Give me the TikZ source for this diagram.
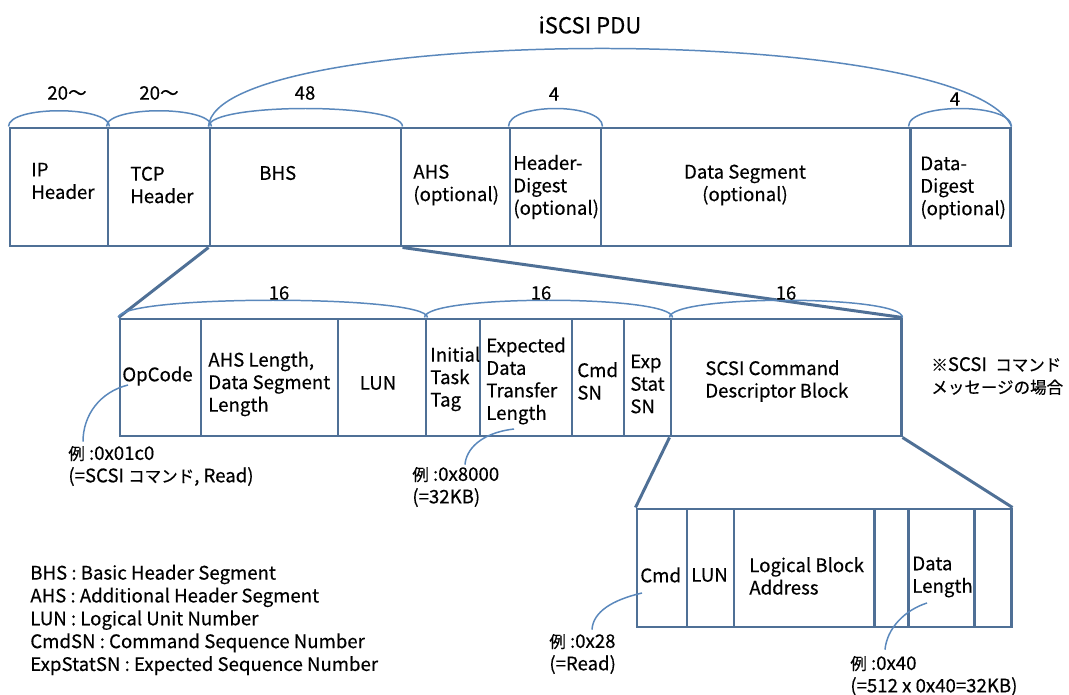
\documentclass[tikz,border=0pt]{standalone}
\usepackage{fontspec}
\setmainfont{Noto Sans CJK JP}[FakeBold=0.35]
\usepackage{tikz}
\usetikzlibrary{calc,fit}
\definecolor{boxblue}{HTML}{4F7096}
\definecolor{arcblue}{HTML}{5A88BC}
\newcommand{\jpsz}{\fontsize{9.4}{12.8}\selectfont}
\tikzset{
  field/.style={draw=boxblue, line width=1.7pt, inner sep=0pt},
  zoomline/.style={draw=boxblue, line width=1.7pt},
  bracearc/.style={draw=arcblue, line width=0.85pt},
  callout/.style={draw=arcblue, line width=0.85pt},
  ftext/.style={anchor=west, inner sep=0pt, align=left,
                font=\fontsize{10.6}{12.8}\selectfont},
  lbl/.style={inner sep=0pt, font=\fontsize{10.6}{12}\selectfont},
  ttl/.style={inner sep=0pt, font=\fontsize{12.6}{15}\selectfont}
}

\begin{document}
\begin{tikzpicture}[x=0.02cm, y=-0.02cm]
  \useasboundingbox (0,0) rectangle (1069,695);
  % iSCSI PDU
  \node[field, fit={(10,128) (108,246)}] (ip) {};
  \node[field, fit={(108,128) (210,246)}] (tcp) {};
  \node[field, fit={(210,128) (401,246)}] (bhs) {};
  \node[field, fit={(401,128) (510,246)}] (ahs) {};
  \node[field, fit={(510,128) (601,246)}] (hd) {};
  \node[field, fit={(601,128) (910,246)}] (ds) {};
  \node[field, fit={(910,128) (1010,246)}] (dd) {};
  \node[ftext] (t-ip) at (31,181) {IP\\Header};
  \node[ftext] (t-tcp) at (130,185) {TCP\\Header};
  \node[ftext] (t-bhs) at (259,173) {BHS};
  \node[ftext] (t-ahs) at (413,185) {AHS\\(optional)};
  \node[ftext] (t-hd) at (513,187) {Header-\\Digest\\(optional)};
  \node[ftext, anchor=center, align=center] (t-ds) at (745,185) {Data Segment\\(optional)};
  \node[ftext] (t-dd) at (920,188) {Data-\\Digest\\(optional)};
  \draw[bracearc] (ip.north west) .. controls +(0,-21) and +(0,-21) .. (ip.north east);
  \draw[bracearc] (tcp.north west) .. controls +(0,-21) and +(0,-21) .. (tcp.north east);
  \draw[bracearc] (bhs.north west) .. controls +(0,-24) and +(0,-24) .. (bhs.north east);
  \draw[bracearc] (hd.north west) .. controls +(0,-24) and +(0,-24) .. (hd.north east);
  \draw[bracearc] (dd.north west) .. controls +(0,-24) and +(0,-24) .. (dd.north east);
  \draw[bracearc] (bhs.north west) .. controls (215,25) and (965,20) .. (dd.north east);
  \node[lbl] (n-ip) at (67,93) {20～};
  \node[lbl] (n-tcp) at (159,93) {20～};
  \node[lbl] (n-bhs) at (305,93) {48};
  \node[lbl] (n-hd) at (554,94) {4};
  \node[lbl] (n-dd) at (955,99) {4};
  \node[ttl] (n-pdu) at (590,25) {iSCSI PDU};
  % BHS
  \node[field, fit={(120,319) (201,436)}] (opc) {};
  \node[field, fit={(201,319) (338,436)}] (ahsl) {};
  \node[field, fit={(338,319) (426,436)}] (lun) {};
  \node[field, fit={(426,319) (480,436)}] (itt) {};
  \node[field, fit={(480,319) (572,436)}] (edtl) {};
  \node[field, fit={(572,319) (624,436)}] (cmdsn) {};
  \node[field, fit={(624,319) (671,436)}] (expsn) {};
  \node[field, fit={(671,319) (901,436)}] (cdb) {};
  \draw[zoomline] (bhs.south west) -- (opc.north west);
  \draw[zoomline] (bhs.south east) -- (cdb.north east);
  \draw[bracearc] (opc.north west) .. controls +(0,-23) and +(0,-23) .. (lun.north east);
  \draw[bracearc] (itt.north west) .. controls +(0,-23) and +(0,-23) .. (expsn.north east);
  \draw[bracearc] (cdb.north west) .. controls +(0,-23) and +(0,-23) .. (cdb.north east);
  \node[lbl] (n-opc) at (279,293) {16};
  \node[lbl] (n-itt) at (541,293) {16};
  \node[lbl] (n-cdb) at (786,293) {16};
  \node[ftext] (t-opc) at (122,376) {OpCode};
  \node[ftext] (t-ahsl) at (208,384) {AHS Length,\\Data Segment\\Length};
  \node[ftext, anchor=center] (t-lun) at (378,383) {LUN};
  \node[ftext] (t-itt) at (430,379) {Initial\\Task\\Tag};
  \node[ftext] (t-edtl) at (486,381) {Expected\\Data\\Transfer\\Length};
  \node[ftext] (t-cmdsn) at (577,381) {Cmd\\SN};
  \node[ftext] (t-expsn) at (630,384) {Exp\\Stat\\SN};
  \node[ftext] (t-cdb) at (705,381) {SCSI Command\\Descriptor Block};
  \node[ftext] (t-note) at (931,376) {{\jpsz ※}SCSI\ \ {\jpsz コマンド}\\{\jpsz メッセージの場合}};
  % CDB
  \node[field, fit={(637,509) (687,627)}] (cmd) {};
  \node[field, fit={(687,509) (734,627)}] (lun2) {};
  \node[field, fit={(734,509) (874,627)}] (lba) {};
  \node[field, fit={(874,509) (908,627)}] (rsv) {};
  \node[field, fit={(908,509) (974,627)}] (dlen) {};
  \node[field, fit={(974,509) (1011,627)}] (ctl) {};
  \draw[zoomline] (cdb.south west) -- (cmd.north west);
  \draw[zoomline] (cdb.south east) -- (ctl.north east);
  \node[ftext] (t-cmd) at (640,575) {Cmd};
  \node[ftext] (t-lun2) at (691,575) {LUN};
  \node[ftext] (t-lba) at (749,576) {Logical Block\\Address};
  \node[ftext] (t-dlen) at (912,577) {Data\\Length};
  % examples
  \node[ftext] (ex-opc) at (68,466) {{\jpsz 例} :0x01c0\\(=SCSI {\jpsz コマンド}, Read)};
  \node[ftext] (ex-edtl) at (412,487) {{\jpsz 例} :0x8000\\(=32KB)};
  \node[ftext] (ex-cmd) at (549,654) {{\jpsz 例} :0x28\\(=Read)};
  \node[ftext] (ex-dlen) at (850,676) {{\jpsz 例} :0x40\\(=512 x 0x40=32KB)};
  \coordinate (p-opc) at (128,385);
  \coordinate (p-edtl) at (514,429);
  \coordinate (p-cmd) at (642,593);
  \coordinate (p-dlen) at (927,603);
  \draw[callout] (p-opc) .. controls (100,392) and (83,415) .. ($(ex-opc.north west)+(15,-4)$);
  \draw[callout] (p-edtl) .. controls (480,433) and (466,450) .. ($(ex-edtl.north west)+(53,-2)$);
  \draw[callout] (p-cmd) .. controls (612,600) and (593,612) .. ($(ex-cmd.north west)+(43,-4)$);
  \draw[callout] (p-dlen) .. controls (905,610) and (887,628) .. ($(ex-dlen.north west)+(35,-6)$);
  % legend
  \node[ftext, font=\fontsize{10.6}{13}\selectfont] (legend) at (30,620)
    {BHS : Basic Header Segment\\AHS : Additional Header Segment\\LUN : Logical Unit Number\\CmdSN : Command Sequence Number\\ExpStatSN : Expected Sequence Number};
\end{tikzpicture}
\end{document}
